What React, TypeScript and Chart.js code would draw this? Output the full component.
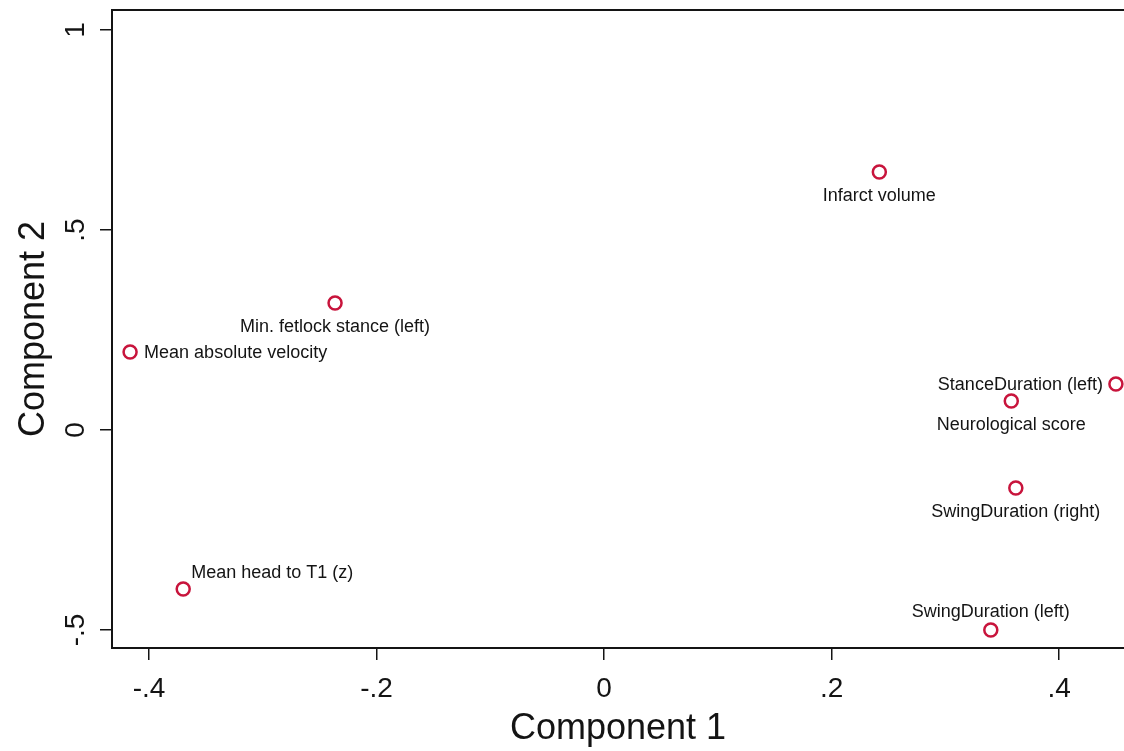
import React, { useEffect, useRef } from "react";
import { Chart, registerables } from "chart.js";

Chart.register(...registerables);

const variableNames = [
  "Infarct volume",
  "Min. fetlock stance (left)",
  "Mean absolute velocity",
  "StanceDuration (left)",
  "Neurological score",
  "SwingDuration (right)",
  "Mean head to T1 (z)",
  "SwingDuration (left)",
];
const component1 = [0.242, -0.2365, -0.4167, 0.45, 0.358, 0.362, -0.37, 0.34];
const component2 = [0.645, 0.3175, 0.195, 0.115, 0.0725, -0.145, -0.3975, -0.5];
const labelPlacement = ["below", "below", "right", "left", "below", "below", "aboveRight", "above"];
const xTickValues = [-0.4, -0.2, 0, 0.2, 0.4];
const yTickValues = [-0.5, 0, 0.5, 1];

const FONT = "'Liberation Sans', Arial, Helvetica, sans-serif";
const MARK = "#C8143C";
const INK = "#141414";

const fmt = (v: number) => {
  const r = Math.round(v * 10) / 10;
  if (r === 0) return "0";
  let s = String(r);
  s = s.replace(/^0\./, ".").replace(/^-0\./, "-.");
  return s;
};

const zeroPad = (s: any) => {
  s.paddingLeft = 0;
  s.paddingRight = 0;
  s.paddingTop = 0;
  s.paddingBottom = 0;
};

const frameTop = {
  id: "frameTop",
  afterDraw(chart: any) {
    const { ctx, chartArea } = chart;
    ctx.save();
    ctx.strokeStyle = INK;
    ctx.lineWidth = 2;
    ctx.beginPath();
    ctx.moveTo(chartArea.left - 1, chartArea.top);
    ctx.lineTo(chartArea.right + 2, chartArea.top);
    ctx.stroke();
    ctx.restore();
  },
};

const pointLabels = {
  id: "pointLabels",
  afterDatasetsDraw(chart: any) {
    const { ctx } = chart;
    const meta = chart.getDatasetMeta(0);
    ctx.save();
    ctx.font = `18px ${FONT}`;
    ctx.fillStyle = INK;
    ctx.textBaseline = "middle";
    meta.data.forEach((el: any, i: number) => {
      const px = el.x;
      const py = el.y;
      const pos = labelPlacement[i];
      const text = variableNames[i];
      if (pos === "below") {
        ctx.textAlign = "center";
        ctx.fillText(text, px, py + 24);
      } else if (pos === "above") {
        ctx.textAlign = "center";
        ctx.fillText(text, px, py - 18);
      } else if (pos === "right") {
        ctx.textAlign = "left";
        ctx.fillText(text, px + 14, py + 1);
      } else if (pos === "left") {
        ctx.textAlign = "right";
        ctx.fillText(text, px - 13, py + 1);
      } else if (pos === "aboveRight") {
        ctx.textAlign = "left";
        ctx.fillText(text, px + 8, py - 16);
      }
    });
    ctx.restore();
  },
};

export default function App() {
  const ref = useRef<HTMLCanvasElement | null>(null);

  useEffect(() => {
    if (!ref.current) return;
    const chart = new Chart(ref.current, {
      type: "scatter",
      data: {
        datasets: [
          {
            data: component1.map((x, i) => ({ x, y: component2[i] })),
            pointStyle: "circle",
            pointRadius: 6.5,
            pointBorderWidth: 2.5,
            pointBorderColor: MARK,
            pointBackgroundColor: "rgba(255,255,255,0)",
            pointHoverRadius: 6.5,
          },
        ],
      },
      options: {
        responsive: false,
        animation: false,
        layout: { autoPadding: false, padding: { top: 10, right: 0, bottom: 0, left: 0 } },
        plugins: {
          legend: { display: false },
          tooltip: { enabled: false },
        },
        scales: {
          x: {
            type: "linear",
            min: -0.4326,
            max: 0.4571,
            afterFit: (s: any) => {
              s.height = 103;
              zeroPad(s);
            },
            afterBuildTicks: (s: any) => {
              s.ticks = xTickValues.map((v) => ({ value: v }));
            },
            ticks: {
              callback: (v: any) => fmt(Number(v)),
              font: { family: FONT, size: 28 },
              color: INK,
              padding: 12,
              maxRotation: 0,
              minRotation: 0,
            },
            grid: {
              drawOnChartArea: false,
              drawTicks: true,
              tickLength: 12,
              color: INK,
              lineWidth: 1.5,
            },
            border: { display: true, color: INK, width: 2 },
            title: {
              display: true,
              text: "Component 1",
              font: { family: FONT, size: 36 },
              color: INK,
              padding: { top: 0, bottom: 0 },
            },
          },
          y: {
            type: "linear",
            min: -0.545,
            max: 1.05,
            afterFit: (s: any) => {
              s.width = 112;
              zeroPad(s);
            },
            afterBuildTicks: (s: any) => {
              s.ticks = yTickValues.map((v) => ({ value: v }));
            },
            ticks: {
              callback: (v: any) => fmt(Number(v)),
              font: { family: FONT, size: 28 },
              color: INK,
              padding: 7,
              minRotation: 90,
              maxRotation: 90,
              crossAlign: "center",
            },
            grid: {
              drawOnChartArea: false,
              drawTicks: true,
              tickLength: 12,
              color: INK,
              lineWidth: 1.5,
            },
            border: { display: true, color: INK, width: 2 },
            title: {
              display: true,
              text: "Component 2",
              font: { family: FONT, size: 36 },
              color: INK,
              padding: { top: 12, bottom: 0 },
            },
          },
        },
      },
      plugins: [frameTop, pointLabels],
    });
    return () => chart.destroy();
  }, []);

  return (
    <div
      style={{
        position: "fixed",
        left: 0,
        top: 0,
        width: 1124,
        height: 751,
        overflow: "hidden",
        background: "#fff",
      }}
    >
      <canvas ref={ref} width={1124} height={751} style={{ width: 1124, height: 751, display: "block" }} />
    </div>
  );
}
